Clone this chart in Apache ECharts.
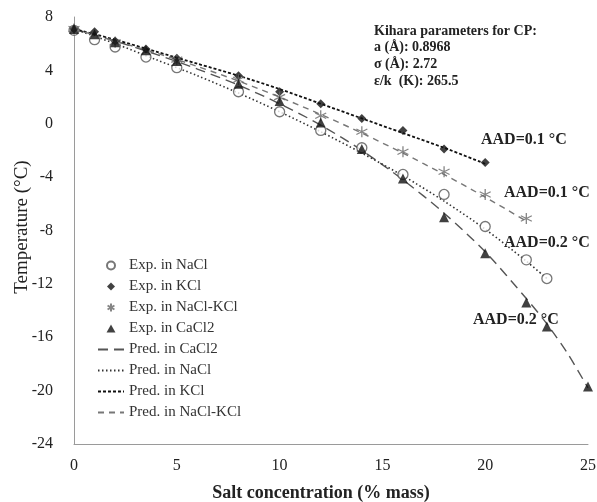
<!DOCTYPE html>
<html>
<head>
<meta charset="utf-8">
<script src="https://cdn.jsdelivr.net/npm/echarts@6/dist/echarts.min.js"></script>
<style>
  html, body { margin: 0; padding: 0; background: #fff; }
  #chart { width: 597px; height: 502px; }
</style>
</head>
<body>
<div id="chart"></div>
<script>
// Experimental hydrate equilibrium temperatures (°C) vs. salt concentration (% mass)
const expNaClX   = [0, 1, 2, 3.5, 5, 8, 10, 12, 14, 16, 18, 20, 22, 23];
const expNaClY   = [7.0, 6.3, 5.75, 5.0, 4.2, 2.4, 0.9, -0.5, -1.8, -3.8, -5.3, -7.7, -10.2, -11.6];

const expKClX    = [0, 1, 2, 3.5, 5, 8, 10, 12, 14, 16, 18, 20];
const expKClY    = [7.1, 6.9, 6.2, 5.6, 4.9, 3.6, 2.4, 1.5, 0.4, -0.5, -1.9, -2.9];

const expMixX    = [0, 2, 5, 8, 10, 12, 14, 16, 18, 20, 22];
const expMixY    = [7.1, 6.1, 4.8, 3.3, 2.0, 0.6, -0.6, -2.1, -3.6, -5.3, -7.1];

const expCaCl2X  = [0, 1, 2, 3.5, 5, 8, 10, 12, 14, 16, 18, 20, 22, 23, 25];
const expCaCl2Y  = [7.1, 6.7, 6.1, 5.5, 4.7, 3.0, 1.7, 0.1, -1.9, -4.1, -7.0, -9.7, -13.4, -15.2, -19.7];

// Model predictions
const predCaCl2X = [0, 2, 4, 6, 8, 10, 12, 14, 16, 18, 20, 22, 23, 24, 25];
const predCaCl2Y = [7.1, 6.2, 5.2, 4.1, 2.9, 1.5, -0.1, -2.0, -4.2, -6.7, -9.6, -13.1, -15.0, -17.2, -19.8];

const predNaClX  = [0, 2, 4, 6, 8, 10, 12, 14, 16, 18, 20, 22, 23];
const predNaClY  = [7.1, 6.0, 4.8, 3.6, 2.3, 0.9, -0.6, -2.2, -3.9, -5.8, -7.9, -10.3, -11.6];

const predKClX   = [0, 2, 4, 6, 8, 10, 12, 14, 16, 18, 20];
const predKClY   = [7.1, 6.3, 5.4, 4.5, 3.6, 2.6, 1.5, 0.4, -0.7, -1.8, -3.0];

const predMixX   = [0, 2, 4, 6, 8, 10, 12, 14, 16, 18, 20, 22];
const predMixY   = [7.1, 6.2, 5.3, 4.3, 3.2, 2.0, 0.7, -0.7, -2.2, -3.8, -5.5, -7.3];

const xTicks = { min: 0, max: 25, interval: 5 };
const yTicks = { min: -24, max: 8, interval: 4 };

const yTitle = 'Temperature (°C)';
const kiharaLines = ['Kihara parameters for CP:', 'a (Å): 0.8968', 'σ (Å): 2.72', 'ε/k  (K): 265.5'];
const aadLabels = ['AAD=0.1 °C', 'AAD=0.1 °C', 'AAD=0.2 °C', 'AAD=0.2 °C'];

const FONT = '"Liberation Serif", "Times New Roman", serif';
const pair = (xs, ys) => xs.map((x, i) => [x, ys[i]]);

const asterisk = 'path://M5,0 L5,10 M0.7,2.5 L9.3,7.5 M0.7,7.5 L9.3,2.5';
const diamondIcon = 'path://M5,0 L10,5 L5,10 L0,5 Z';
const triangleIcon = 'path://M5,0 L10,9 L0,9 Z';
const hideSymbol = { opacity: 0 };

const chart = echarts.init(document.getElementById('chart'), null, { renderer: 'canvas' });

chart.setOption({
  backgroundColor: '#ffffff',
  animation: false,
  grid: { left: 74, right: 9, top: 17, bottom: 58, outerBoundsMode: 'none', containLabel: false },
  xAxis: {
    type: 'value',
    min: xTicks.min, max: xTicks.max, interval: xTicks.interval,
    name: 'Salt concentration (% mass)',
    nameLocation: 'middle', nameGap: 40,
    nameTextStyle: { fontFamily: FONT, fontSize: 18, fontWeight: 'bold', color: '#222', padding: [0, 20, 0, 0] },
    axisLine: { onZero: false, lineStyle: { color: '#9a9a9a', width: 1 } },
    axisTick: { show: false },
    splitLine: { show: false },
    axisLabel: { fontFamily: FONT, fontSize: 16, color: '#222', margin: 14 }
  },
  yAxis: {
    type: 'value',
    min: yTicks.min, max: yTicks.max, interval: yTicks.interval,
    axisLine: { show: true, onZero: false, lineStyle: { color: '#9a9a9a', width: 1 } },
    axisTick: { show: false },
    splitLine: { show: false },
    axisLabel: { fontFamily: FONT, fontSize: 16, color: '#222', margin: 21 }
  },
  legend: {
    orient: 'vertical',
    left: 97, top: 258, padding: 0,
    itemWidth: 26, itemHeight: 8, itemGap: 6,
    textStyle: { fontFamily: FONT, fontSize: 15, color: '#333' },
    data: [
      { name: 'Exp. in NaCl' },
      { name: 'Exp. in KCl', icon: diamondIcon },
      { name: 'Exp. in NaCl-KCl', icon: asterisk },
      { name: 'Exp. in CaCl2', icon: triangleIcon },
      { name: 'Pred. in CaCl2', itemStyle: hideSymbol },
      { name: 'Pred. in NaCl', itemStyle: hideSymbol },
      { name: 'Pred. in KCl', itemStyle: hideSymbol },
      { name: 'Pred. in NaCl-KCl', itemStyle: hideSymbol }
    ]
  },
  graphic: [
    // vertical axis title
    {
      type: 'text', x: 22, y: 227, rotation: Math.PI / 2,
      style: { text: yTitle, font: '19px ' + FONT, fill: '#222', align: 'center', verticalAlign: 'middle' }
    },
    ...kiharaLines.map((t, i) => ({
      type: 'text', left: 374, top: 24 + i * 16.7,
      style: { text: t, font: 'bold 14px ' + FONT, fill: '#222' }
    })),
    { type: 'text', left: 481, top: 132, style: { text: aadLabels[0], font: 'bold 16px ' + FONT, fill: '#222' } },
    { type: 'text', left: 504, top: 185, style: { text: aadLabels[1], font: 'bold 16px ' + FONT, fill: '#222' } },
    { type: 'text', left: 504, top: 235, style: { text: aadLabels[2], font: 'bold 16px ' + FONT, fill: '#222' } },
    { type: 'text', left: 473, top: 312, style: { text: aadLabels[3], font: 'bold 16px ' + FONT, fill: '#222' } }
  ],
  series: [
    {
      name: 'Pred. in CaCl2', type: 'line', data: pair(predCaCl2X, predCaCl2Y),
      smooth: 0.3, symbol: 'none', z: 2,
      lineStyle: { color: '#555', width: 1.4, type: [10, 6] },
      itemStyle: { color: '#555' }
    },
    {
      name: 'Pred. in NaCl', type: 'line', data: pair(predNaClX, predNaClY),
      smooth: 0.3, symbol: 'none', z: 2,
      lineStyle: { color: '#333', width: 1.6, type: [1.5, 2.5] },
      itemStyle: { color: '#333' }
    },
    {
      name: 'Pred. in KCl', type: 'line', data: pair(predKClX, predKClY),
      smooth: 0.3, symbol: 'none', z: 2,
      lineStyle: { color: '#111', width: 1.8, type: [3, 2] },
      itemStyle: { color: '#111' }
    },
    {
      name: 'Pred. in NaCl-KCl', type: 'line', data: pair(predMixX, predMixY),
      smooth: 0.3, symbol: 'none', z: 2,
      lineStyle: { color: '#777', width: 1.4, type: [6, 5] },
      itemStyle: { color: '#777' }
    },
    {
      name: 'Exp. in NaCl', type: 'scatter', data: pair(expNaClX, expNaClY),
      symbol: 'circle', symbolSize: 10, z: 5,
      itemStyle: { color: '#fff', borderColor: '#555', borderWidth: 1.3 }
    },
    {
      name: 'Exp. in KCl', type: 'scatter', data: pair(expKClX, expKClY),
      symbol: 'diamond', symbolSize: 9, z: 5,
      itemStyle: { color: '#111' }
    },
    {
      name: 'Exp. in NaCl-KCl', type: 'scatter', data: pair(expMixX, expMixY),
      symbol: asterisk, symbolSize: 11, z: 5,
      itemStyle: { color: 'transparent', borderColor: '#666', borderWidth: 1.3 }
    },
    {
      name: 'Exp. in CaCl2', type: 'scatter', data: pair(expCaCl2X, expCaCl2Y),
      symbol: 'triangle', symbolSize: 10, z: 5,
      itemStyle: { color: '#111' }
    }
  ]
});
</script>
</body>
</html>
